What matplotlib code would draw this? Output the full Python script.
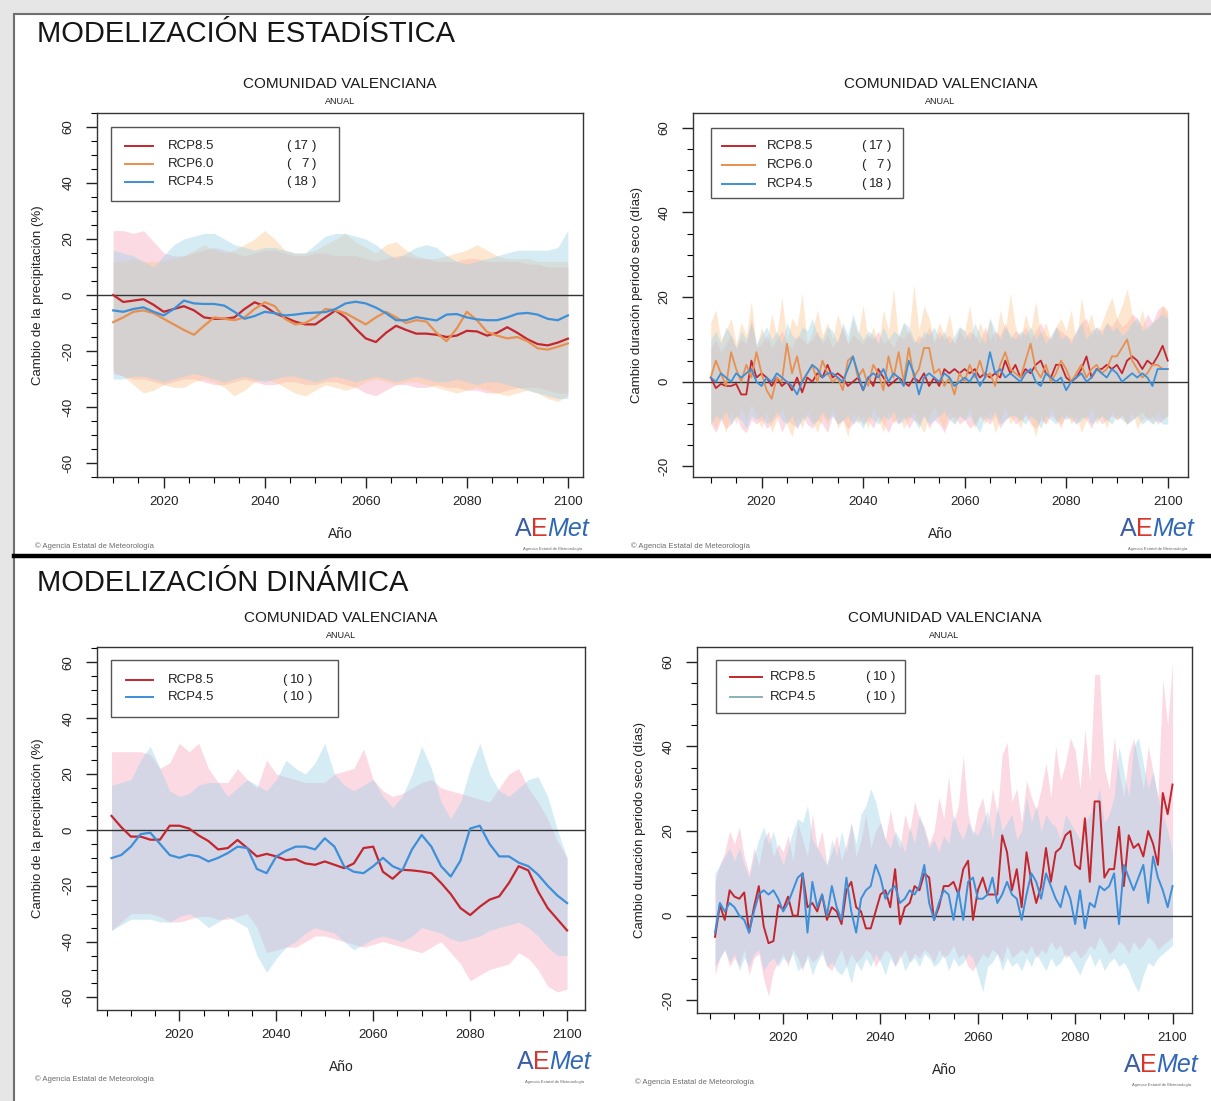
import numpy as np
import matplotlib
matplotlib.use('Agg')
import matplotlib.pyplot as plt
from matplotlib.patches import Rectangle
from matplotlib.lines import Line2D
from matplotlib.ticker import MultipleLocator

plt.rcParams['font.family'] = ['Liberation Sans', 'DejaVu Sans']
plt.rcParams['axes.unicode_minus'] = False

# ---------------- data ----------------
# statistical, precipitation change (%), every 2 years 2010-2100
years_tl = np.arange(2010, 2101, 2)
tl_rcp85 = [0, -2.5, -2, -1.5, -3.5, -6, -5, -4, -5.5, -8, -8.5, -8.5, -8, -5, -2.6, -4,
            -6.5, -8, -9.5, -10.5, -10.5, -8, -5.5, -8, -12, -15.5, -16.8, -13.5, -11, -12.5,
            -13.8, -13.8, -14.2, -15, -14.5, -12.8, -13, -14.5, -13.5, -11.5, -13.5, -15.8,
            -17.5, -18, -17, -15.6]
tl_rcp60 = [-9.7, -8, -6, -5.5, -6.5, -8.5, -10.5, -12.5, -14.2, -11, -8, -8.5, -9, -8, -5,
            -2.6, -4, -8.5, -10.5, -10, -8, -5, -5.5, -6.5, -8.5, -10.5, -8, -6, -8, -10, -9,
            -9.5, -13.5, -16.5, -12, -6, -9, -13.2, -14.5, -15.5, -15, -16.5, -19, -19.5,
            -18.5, -17.3]
tl_rcp45 = [-5.5, -6, -5, -4.4, -6, -7.3, -5, -2, -3, -3.2, -3.2, -3.8, -6, -8.5, -7.5, -6,
            -6.5, -7.3, -7, -6.5, -6.3, -6.1, -5, -3, -2.4, -3, -4.5, -6.5, -9, -9, -7.9, -8.5,
            -9.1, -7, -6.8, -8, -8.7, -9, -9, -8, -6.7, -6.4, -7, -8.5, -9, -7.3]
tl_rcp85_hi = [23, 23, 22, 23, 19, 15, 14, 14, 15, 16, 17, 16, 15, 14, 15, 16, 16, 15, 14, 14,
               15, 15, 14, 14, 14, 13, 12, 13, 14, 14, 13, 13, 12, 12, 12, 13, 13, 12, 12, 12,
               12, 11, 11, 10, 10, 10]
tl_rcp85_lo = [-28, -29, -30, -30, -31, -32, -31, -30, -30, -31, -32, -32, -31, -30, -31, -32,
               -32, -31, -31, -32, -32, -31, -31, -32, -33, -35, -36, -34, -32, -32, -33, -33,
               -32, -33, -33, -34, -34, -35, -35, -34, -33, -33, -33, -34, -35, -35]
tl_rcp60_hi = [12, 12, 13, 12, 12, 12, 13, 14, 16, 18, 16, 15, 16, 18, 20, 23, 20, 16, 15, 15,
               16, 18, 20, 22, 19, 17, 15, 18, 19, 16, 14, 13, 13, 14, 15, 16, 18, 16, 14, 13,
               13, 13, 12, 12, 12, 12]
tl_rcp60_lo = [-27, -29, -32, -35, -34, -32, -33, -33, -31, -30, -31, -33, -36, -34, -31, -30,
               -31, -33, -35, -36, -34, -32, -33, -34, -33, -31, -30, -31, -32, -31, -31, -32,
               -33, -34, -35, -34, -33, -34, -35, -36, -35, -34, -35, -37, -38, -36]
tl_rcp45_hi = [16, 15, 14, 12, 10, 14, 18, 20, 21, 22, 22, 20, 18, 17, 16, 17, 17, 16, 15, 15,
               18, 21, 22, 22, 21, 20, 18, 15, 13, 15, 17, 18, 17, 14, 12, 11, 12, 13, 14, 15,
               16, 16, 16, 16, 17, 23]
tl_rcp45_lo = [-30, -30, -29, -29, -30, -31, -30, -29, -28, -29, -30, -31, -30, -29, -30, -31,
               -30, -29, -29, -30, -31, -30, -29, -30, -31, -30, -29, -30, -31, -30, -29, -30,
               -31, -31, -30, -31, -32, -31, -31, -32, -33, -34, -35, -36, -37, -37]

# statistical, dry period change (days), yearly 2010-2100
years_tr = np.arange(2010, 2101)
tr_rcp85 = [1, -1.5, -0.5, -1, -1, -0.5, -3, -3, 5, 1,
            2, 1, -1, 1, -1, 0, -2, 1, -2.5, 1,
            0, 2, 1, 4, 1, 2, 1, -1, 0, 1,
            -2, 1, -1, 3, 1, -1, 0, 1, 0, -1,
            1, 0, 2, -1, 1, -1, 3, 2, 3, 2,
            3, 2, 3, 1, 2, 1, 2, 1, 5, 2,
            4, 1, 3, 2, 4, 5, 2, 1, 4, 4,
            1, 0, 1, 3, 6, 1, 3, 3, 4, 3,
            4, 2, 5, 6, 5, 3, 5, 4, 6, 8.5,
            5]
tr_rcp60 = [1, 5, 2, -1, 7, 3, 0, 4, 1, 7,
            2, -2, -4, 1, 0, 9, 2, 6, 0, 2,
            4, 0, 5, 2, 0, 1, -2, 5, 6, 1,
            3, -1, 4, 2, -2, 6, 1, 7, 0, 8,
            1, 3, 8, 8, 2, 3, -1, 1, -3, 2,
            0, 4, 1, 5, 1, 2, -1, 4, 7, 3,
            2, 1, 5, 9, 3, 1, 4, 0, 2, 5,
            3, 0, 2, 4, 1, 3, 4, 2, 3, 6,
            6, 8, 10, 5, 3, 1, 2, 4, 4, 3,
            3]
tr_rcp45 = [1, 0, 2, 1, 0, 2, 1, 2, 3, 0,
            -1, 1, 0, 2, 1, 0, -1, -3, 0, 2,
            4, 3, 1, 2, 2, 1, 0, 3, 6, 2,
            -2, 1, 2, 1, 3, 0, 2, 1, -1, 5,
            2, -3, 1, 2, 1, 0, 2, 1, -1, 0,
            1, 0, 2, -1, 1, 7, 2, 3, 1, 2,
            1, 0, 2, 3, 0, -1, 2, 1, 0, 1,
            -2, 0, 1, 2, 0, 1, 3, 2, 1, 3,
            2, 0, 1, 2, 1, 2, 1, -1, 3, 3,
            3]
tr_rcp85_hi = [8, 10, 7, 9, 11, 8, 10, 9, 15, 8,
               9, 11, 8, 10, 12, 9, 8, 11, 10, 9,
               10, 12, 9, 11, 8, 10, 13, 9, 11, 10,
               9, 11, 10, 12, 9, 10, 8, 11, 10, 12,
               9, 11, 10, 13, 9, 12, 10, 11, 9, 12,
               10, 12, 11, 9, 13, 10, 12, 11, 14, 10,
               12, 11, 13, 10, 12, 14, 11, 10, 13, 12,
               11, 10, 12, 14, 15, 11, 13, 12, 14, 13,
               15, 13, 14, 16, 15, 13, 16, 14, 17, 18,
               16]
tr_rcp85_lo = [-10, -12, -9, -11, -10, -8, -11, -12, -9, -10,
               -9, -11, -10, -8, -12, -9, -10, -11, -8, -10,
               -11, -9, -10, -12, -8, -10, -9, -11, -10, -8,
               -10, -9, -11, -8, -10, -12, -9, -10, -8, -11,
               -9, -10, -8, -11, -9, -10, -12, -9, -8, -10,
               -9, -11, -10, -8, -9, -10, -8, -11, -9, -8,
               -10, -9, -8, -10, -11, -9, -10, -8, -9, -10,
               -8, -9, -10, -8, -9, -11, -8, -10, -9, -8,
               -9, -8, -10, -9, -8, -7, -9, -8, -10, -9,
               -8]
tr_rcp60_hi = [14, 17, 10, 12, 15, 9, 14, 11, 19, 8,
               13, 9, 16, 11, 20, 10, 15, 13, 21, 9,
               12, 17, 11, 14, 10, 16, 12, 9, 15, 11,
               18, 10, 13, 9, 17, 12, 22, 10, 14, 11,
               23, 12, 18, 15, 10, 14, 11, 16, 9, 13,
               12, 18, 10, 14, 11, 15, 9, 17, 12, 21,
               13, 10, 16, 12, 19, 11, 14, 10, 13, 15,
               12, 17, 9, 20, 13, 16, 11, 14, 17, 20,
               15, 18, 22, 16, 13, 17, 12, 14, 15, 18,
               17]
tr_rcp60_lo = [-9, -11, -8, -12, -7, -10, -6, -9, -5, -8,
               -11, -7, -12, -9, -6, -10, -13, -8, -11, -7,
               -9, -12, -8, -10, -6, -11, -9, -13, -7, -10,
               -8, -11, -6, -9, -12, -7, -10, -8, -11, -9,
               -7, -10, -12, -8, -6, -9, -11, -7, -10, -8,
               -9, -6, -11, -8, -10, -7, -12, -9, -6, -10,
               -8, -11, -7, -9, -13, -8, -10, -6, -9, -11,
               -7, -10, -8, -12, -9, -6, -10, -8, -11, -7,
               -9, -8, -10, -7, -11, -9, -8, -10, -7, -9,
               -8]
tr_rcp45_hi = [10, 12, 9, 13, 11, 8, 12, 10, 14, 9,
               11, 13, 10, 12, 9, 14, 11, 10, 13, 12,
               15, 11, 10, 13, 12, 9, 14, 11, 16, 12,
               10, 12, 11, 9, 13, 10, 12, 11, 14, 13,
               10, 9, 12, 11, 13, 10, 12, 9, 11, 13,
               12, 10, 14, 11, 9, 15, 12, 10, 13, 11,
               10, 12, 11, 13, 10, 12, 9, 11, 13, 10,
               11, 9, 12, 14, 10, 12, 13, 11, 14, 12,
               13, 11, 12, 14, 15, 12, 13, 14, 15, 16,
               15]
tr_rcp45_lo = [-10, -8, -9, -7, -10, -8, -9, -11, -8, -9,
               -8, -10, -9, -7, -9, -10, -8, -11, -9, -8,
               -10, -9, -7, -9, -8, -10, -9, -8, -10, -9,
               -11, -8, -9, -10, -8, -9, -7, -10, -9, -8,
               -9, -11, -8, -10, -9, -8, -7, -9, -10, -8,
               -9, -8, -10, -12, -8, -9, -7, -10, -9, -8,
               -8, -9, -10, -8, -9, -11, -8, -9, -10, -8,
               -9, -8, -10, -9, -8, -10, -9, -8, -9, -10,
               -8, -9, -10, -9, -8, -10, -9, -10, -9, -10,
               -10]

# dynamical, precipitation change (%), every 2 years 2006-2100
years_bl = np.arange(2006, 2101, 2)
bl_rcp85 = [5, 1, -2.4, -2.4, -3.5, -3.5, 1.5, 1.5, 0.5, -2, -4, -7, -6.5, -3.6, -6.5, -9.5,
            -8.6, -9.5, -10.8, -10.5, -12, -12.5, -11.3, -12.5, -13.7, -12, -6.5, -6, -15,
            -17.5, -14.3, -14.5, -14.9, -15.5, -19, -23, -28, -30.5, -27.5, -25, -23.8, -19,
            -13, -14.5, -22, -28, -32, -36]
bl_rcp45 = [-10.1, -9, -6, -1.5, -1, -5, -9, -10, -8.9, -9.5, -11.3, -10, -8.3, -6, -6.5,
            -14, -15.5, -9.5, -7.5, -6, -6, -7, -3, -6, -13.1, -15, -15.5, -13, -10, -13,
            -14.5, -7, -1.8, -6, -13, -16.7, -11, 0.5, 1.5, -5, -9.5, -9.5, -11.7, -13, -16,
            -20, -23.5, -26.2]
bl_rcp85_hi = [28, 28, 28, 28, 27, 22, 24, 31, 28, 31, 22, 17, 17, 22, 18, 15, 25, 20, 19, 18,
               17, 17, 17, 20, 21, 22, 29, 18, 14, 12, 13, 15, 17, 18, 15, 14, 13, 12, 11, 10,
               15, 20, 22, 15, 10, 4, -4, -10]
bl_rcp85_lo = [-36, -33, -30, -30, -30, -31, -33, -33, -32, -31, -31, -32, -32, -31, -30, -35,
               -44, -43, -42, -42, -40, -38, -38, -39, -40, -41, -42, -41, -40, -41, -42, -43,
               -44, -42, -40, -44, -48, -54, -52, -50, -49, -48, -44, -46, -50, -56, -58, -57]
bl_rcp45_hi = [16, 17, 18, 25, 30, 22, 14, 12, 13, 16, 17, 17, 12, 15, 18, 16, 14, 18, 25, 22,
               20, 24, 31, 20, 16, 14, 16, 18, 12, 8, 12, 20, 30, 22, 10, 4, 10, 22, 31, 20,
               14, 12, 15, 18, 19, 12, 0, -10]
bl_rcp45_lo = [-36, -34, -32, -32, -32, -33, -33, -31, -30, -32, -35, -33, -31, -33, -35, -45,
               -51, -46, -42, -40, -37, -35, -36, -37, -40, -43, -41, -39, -38, -39, -40, -38,
               -35, -36, -37, -39, -40, -39, -38, -36, -35, -34, -33, -35, -38, -42, -45, -45]

# dynamical, dry period change (days), yearly 2006-2100
years_br = np.arange(2006, 2101)
br_rcp85 = [-5, 2.5, -1, 6,
            4.5, 4, 5.5, -4, 2, 7, -2.5, -6.5, -6, 2.5,
            1.5, 4.5, 0, 0, 10, 2, 3, 1, 5, -1,
            2, 1, -2, 6, 8, 2, 1, -3, -3, 1,
            5, 6, 2, 11, -2, 2, 3, 7, 6, 10,
            9, -1, 2, 7, 7, 8, 5, 11, 13, -1,
            6, 9, 5, 5, 5, 19, 15, 6, 11, 2,
            15, 8, 3, 7, 16, 8, 15, 16, 19, 20,
            12, 11, 23, 8, 27, 27, 9, 11, 11, 21,
            7, 19, 16, 17, 14, 20, 17, 12, 29, 24,
            31]
br_rcp45 = [-4, 3, 1, 3,
            2, 0, -1, -4, 1, 5, 6, 5, 6, 4,
            1, 3, 6, 9, 10, -4, 8, 2, 5, 0,
            7, 2, -1, 9, 1, -4, 4, 6, 7, 12,
            9, 4, 6, 7, 3, 4, 6, 5, 7, 12,
            3, -1, 3, 6, 5, -1, 6, -1, 8, 9,
            4, 4, 5, 9, 3, 5, 8, 5, 4, -1,
            5, 10, 8, 4, 10, 7, 4, 2, 7, 4,
            -2, 6, -3, 3, 2, 7, 6, 7, 10, -2,
            12, 9, 6, 9, 12, 3, 14, 9, 6, 2,
            7]
br_rcp85_hi = [8, 12, 15, 20,
               17, 21, 14, 10, 16, 12, 18, 20, 14, 17,
               15, 19, 13, 22, 18, 14, 24, 16, 20, 12,
               15, 19, 13, 17, 22, 14, 18, 24, 16, 20,
               22, 18, 25, 19, 16, 24, 20, 27, 23, 21,
               17, 20, 28, 23, 33, 22, 26, 38, 24, 19,
               25, 28, 21, 30, 24, 38, 41, 27, 30, 22,
               32, 28, 25, 30, 36, 28, 40, 32, 36, 42,
               39, 30, 44, 32, 57, 57, 35, 30, 42, 34,
               28, 38, 42, 36, 30, 40, 34, 28, 56, 45,
               60]
br_rcp85_lo = [-14, -10, -8, -12,
               -10, -12, -8, -14, -10, -9, -15, -19, -13, -11,
               -9, -12, -8, -10, -13, -9, -11, -10, -8, -12,
               -13, -10, -8, -12, -9, -11, -10, -8, -9, -12,
               -10, -8, -9, -12, -10, -8, -11, -9, -10, -8,
               -9, -11, -8, -10, -9, -7, -10, -9, -12, -13,
               -11, -9, -10, -8, -9, -11, -7, -10, -9, -8,
               -9, -7, -10, -8, -9, -6, -8, -7, -10, -9,
               -8, -10, -9, -7, -8, -5, -7, -9, -8, -6,
               -7, -9, -6, -8, -7, -5, -6, -8, -7, -6,
               -5]
br_rcp45_hi = [10, 12, 14, 16,
               13, 16, 12, 9, 14, 18, 21, 17, 20, 15,
               12, 16, 20, 23, 22, 26, 18, 16, 14, 12,
               18, 14, 20, 15, 22, 17, 24, 26, 30, 27,
               22, 18, 16, 20, 18, 15, 21, 17, 24, 20,
               16, 18, 15, 19, 17, 24, 20, 18, 22, 20,
               19, 22, 25, 18, 26, 20, 22, 24, 18, 20,
               28, 22, 26, 20, 24, 22, 21, 18, 24, 22,
               20, 18, 22, 24, 26, 30, 22, 24, 28, 40,
               34, 28, 40, 42, 36, 30, 34, 28, 24, 20,
               15]
br_rcp45_lo = [-12, -10, -8, -11,
               -9, -13, -10, -12, -9, -8, -13, -11, -10, -12,
               -10, -11, -9, -13, -12, -10, -14, -11, -9, -12,
               -11, -13, -14, -12, -16, -11, -13, -10, -12, -9,
               -11, -14, -10, -12, -9, -13, -11, -10, -12, -9,
               -10, -12, -11, -9, -13, -10, -12, -11, -9, -10,
               -14, -18, -12, -11, -9, -13, -10, -12, -11, -13,
               -10, -12, -9, -11, -13, -10, -12, -11, -9, -10,
               -12, -14, -11, -9, -12, -10, -13, -11, -10, -12,
               -11, -13, -16, -18, -14, -11, -12, -10, -9, -8,
               -7]

n_stat = {'RCP8.5': 17, 'RCP6.0': 7, 'RCP4.5': 18}
n_dyn = {'RCP8.5': 10, 'RCP4.5': 10}

# ---------------- style ----------------
LINE = {'RCP8.5': '#c4262e', 'RCP6.0': '#e8904f', 'RCP4.5': '#3d8fd8'}
BAND = {'RCP8.5': ('#f6a9bd', 0.42), 'RCP6.0': ('#fbc48a', 0.4), 'RCP4.5': ('#9fd2e8', 0.42)}

W, H = 1211, 1101
fig = plt.figure(figsize=(W / 100, H / 100), dpi=100, facecolor='#e6e6e6')


def fx(px):
    return px / W


def fy(py):
    return 1 - py / H


bg = Rectangle((fx(14), -0.1), 1.2, fy(14) + 0.1, transform=fig.transFigure,
               facecolor='white', edgecolor='#707070', lw=1.5, zorder=-10)
fig.add_artist(bg)
fig.add_artist(Line2D([fx(14), 1], [fy(556), fy(556)], color='black', lw=3.2))

fig.text(fx(37), fy(34), 'MODELIZACIÓN ESTADÍSTICA', fontsize=21, ha='left', va='center', color='#151515')
fig.text(fx(37), fy(583), 'MODELIZACIÓN DINÁMICA', fontsize=21, ha='left', va='center', color='#151515')


def make_panel(px_rect, xlim, ylim, ymajor, ylabel, ylab_x):
    l, t, r, b = px_rect
    ax = fig.add_axes([fx(l), fy(b), (r - l) / W, (b - t) / H])
    ax.set_xlim(*xlim)
    ax.set_ylim(*ylim)
    ax.xaxis.set_major_locator(MultipleLocator(20))
    ax.xaxis.set_minor_locator(MultipleLocator(5))
    ax.yaxis.set_major_locator(MultipleLocator(ymajor))
    ax.yaxis.set_minor_locator(MultipleLocator(5))
    ax.tick_params(which='major', direction='out', length=8, width=1, labelsize=9.5,
                   colors='#222222', top=False, right=False)
    ax.tick_params(which='minor', direction='out', length=4, width=0.8, top=False, right=False)
    ax.tick_params(axis='x', pad=6)
    ax.tick_params(axis='y', labelrotation=90, pad=8)
    for lab in ax.get_yticklabels():
        lab.set_va('center')
    for s in ax.spines.values():
        s.set_color('#333333')
        s.set_linewidth(1)
    ax.axhline(0, color='#333333', lw=1, zorder=2)
    ax.text(ylab_x, 0.5, ylabel, rotation=90, ha='center', va='center', fontsize=9.5,
            color='#222222', transform=ax.transAxes)
    ax.text(0.5, -0.157, 'Año', ha='center', va='center', fontsize=10, color='#222222',
            transform=ax.transAxes)
    cx = (l + r) / 2
    fig.text(fx(cx), fy(t - 29), 'COMUNIDAD VALENCIANA', fontsize=11, ha='center', va='center',
             color='#1a1a1a')
    fig.text(fx(cx), fy(t - 12), 'ANUAL', fontsize=6.5, ha='center', va='center', color='#1a1a1a')
    # footer: copyright and logo
    fig.text(fx(l - 62), fy(b + 69), '© Agencia Estatal de Meteorología', fontsize=5.5,
             ha='left', va='center', color='#6a6a6a')
    fig.text(fx(r - 68), fy(b + 52), 'A', fontsize=18, ha='left', va='center', color='#3b5ca6')
    fig.text(fx(r - 52), fy(b + 52), 'E', fontsize=18, ha='left', va='center', color='#d8352a')
    fig.text(fx(r - 36), fy(b + 52), 'Met', fontsize=18, ha='left', va='center', color='#2f68b4',
             style='italic')
    fig.text(fx(r - 30), fy(b + 72), 'Agencia Estatal de Meteorología', fontsize=3,
             ha='center', va='center', color='#666666')
    return ax


def draw(ax, years, series, lw):
    for name, mean, lo, hi in series:
        c, a = BAND[name]
        ax.fill_between(years, lo, hi, color=c, alpha=a, lw=0, zorder=1)
    for name, mean, lo, hi in series:
        ax.plot(years, mean, color=LINE[name], lw=lw, zorder=3)


def legend(ax, box, rows, entries, xs):
    x0, y0, x1, y1 = box
    ax.add_patch(Rectangle((x0, y0), x1 - x0, y1 - y0, transform=ax.transAxes,
                           facecolor='white', edgecolor='#555555', lw=1, zorder=5))
    lx0, lx1, tx, cx = xs
    for (name, n, col), y in zip(entries, rows):
        ax.add_line(Line2D([lx0, lx1], [y, y], transform=ax.transAxes, color=col, lw=1.4, zorder=6))
        ax.text(tx, y, name, transform=ax.transAxes, fontsize=9.5, va='center', ha='left',
                color='#222222', zorder=6)
        ax.text(cx - 0.026, y, '(', transform=ax.transAxes, fontsize=9.5, va='center',
                ha='center', color='#222222', zorder=6)
        ax.text(cx + 0.015, y, str(n), transform=ax.transAxes, fontsize=9.5, va='center',
                ha='right', color='#222222', zorder=6)
        ax.text(cx + 0.026, y, ')', transform=ax.transAxes, fontsize=9.5, va='center',
                ha='center', color='#222222', zorder=6)


# top-left
ax1 = make_panel((97, 113, 583, 477), (2006.8, 2103), (-65, 65), 20,
                 'Cambio de la precipitación (%)', -0.121)
draw(ax1, years_tl, [('RCP8.5', tl_rcp85, tl_rcp85_lo, tl_rcp85_hi),
                     ('RCP6.0', tl_rcp60, tl_rcp60_lo, tl_rcp60_hi),
                     ('RCP4.5', tl_rcp45, tl_rcp45_lo, tl_rcp45_hi)], 1.6)
legend(ax1, (0.029, 0.758, 0.498, 0.9615), (0.909, 0.860, 0.810),
       [(k, n_stat[k], LINE[k]) for k in ['RCP8.5', 'RCP6.0', 'RCP4.5']],
       (0.058, 0.115, 0.146, 0.420))

# top-right
ax2 = make_panel((693, 113, 1188, 477), (2006.5, 2104), (-22.5, 63.5), 20,
                 'Cambio duración periodo seco (días)', -0.113)
draw(ax2, years_tr, [('RCP8.5', tr_rcp85, tr_rcp85_lo, tr_rcp85_hi),
                     ('RCP6.0', tr_rcp60, tr_rcp60_lo, tr_rcp60_hi),
                     ('RCP4.5', tr_rcp45, tr_rcp45_lo, tr_rcp45_hi)], 1.3)
legend(ax2, (0.036, 0.766, 0.424, 0.959), (0.909, 0.857, 0.805),
       [(k, n_stat[k], LINE[k]) for k in ['RCP8.5', 'RCP6.0', 'RCP4.5']],
       (0.059, 0.125, 0.149, 0.370))

# bottom-left
ax3 = make_panel((97, 647, 585, 1010), (2003, 2103.7), (-64.5, 65.5), 20,
                 'Cambio de la precipitación (%)', -0.121)
draw(ax3, years_bl, [('RCP8.5', bl_rcp85, bl_rcp85_lo, bl_rcp85_hi),
                     ('RCP4.5', bl_rcp45, bl_rcp45_lo, bl_rcp45_hi)], 1.6)
legend(ax3, (0.029, 0.807, 0.494, 0.964), (0.909, 0.862),
       [('RCP8.5', n_dyn['RCP8.5'], LINE['RCP8.5']), ('RCP4.5', n_dyn['RCP4.5'], LINE['RCP4.5'])],
       (0.060, 0.115, 0.145, 0.410))

# bottom-right
ax4 = make_panel((697, 647, 1192, 1013), (2002.3, 2104), (-23, 63.5), 20,
                 'Cambio duración periodo seco (días)', -0.115)
draw(ax4, years_br, [('RCP8.5', br_rcp85, br_rcp85_lo, br_rcp85_hi),
                     ('RCP4.5', br_rcp45, br_rcp45_lo, br_rcp45_hi)], 1.4)
legend(ax4, (0.038, 0.820, 0.420, 0.964), (0.918, 0.863),
       [('RCP8.5', n_dyn['RCP8.5'], LINE['RCP8.5']), ('RCP4.5', n_dyn['RCP4.5'], '#8ab0b8')],
       (0.067, 0.131, 0.147, 0.370))

fig.savefig('out.png', dpi=100, facecolor=fig.get_facecolor())
